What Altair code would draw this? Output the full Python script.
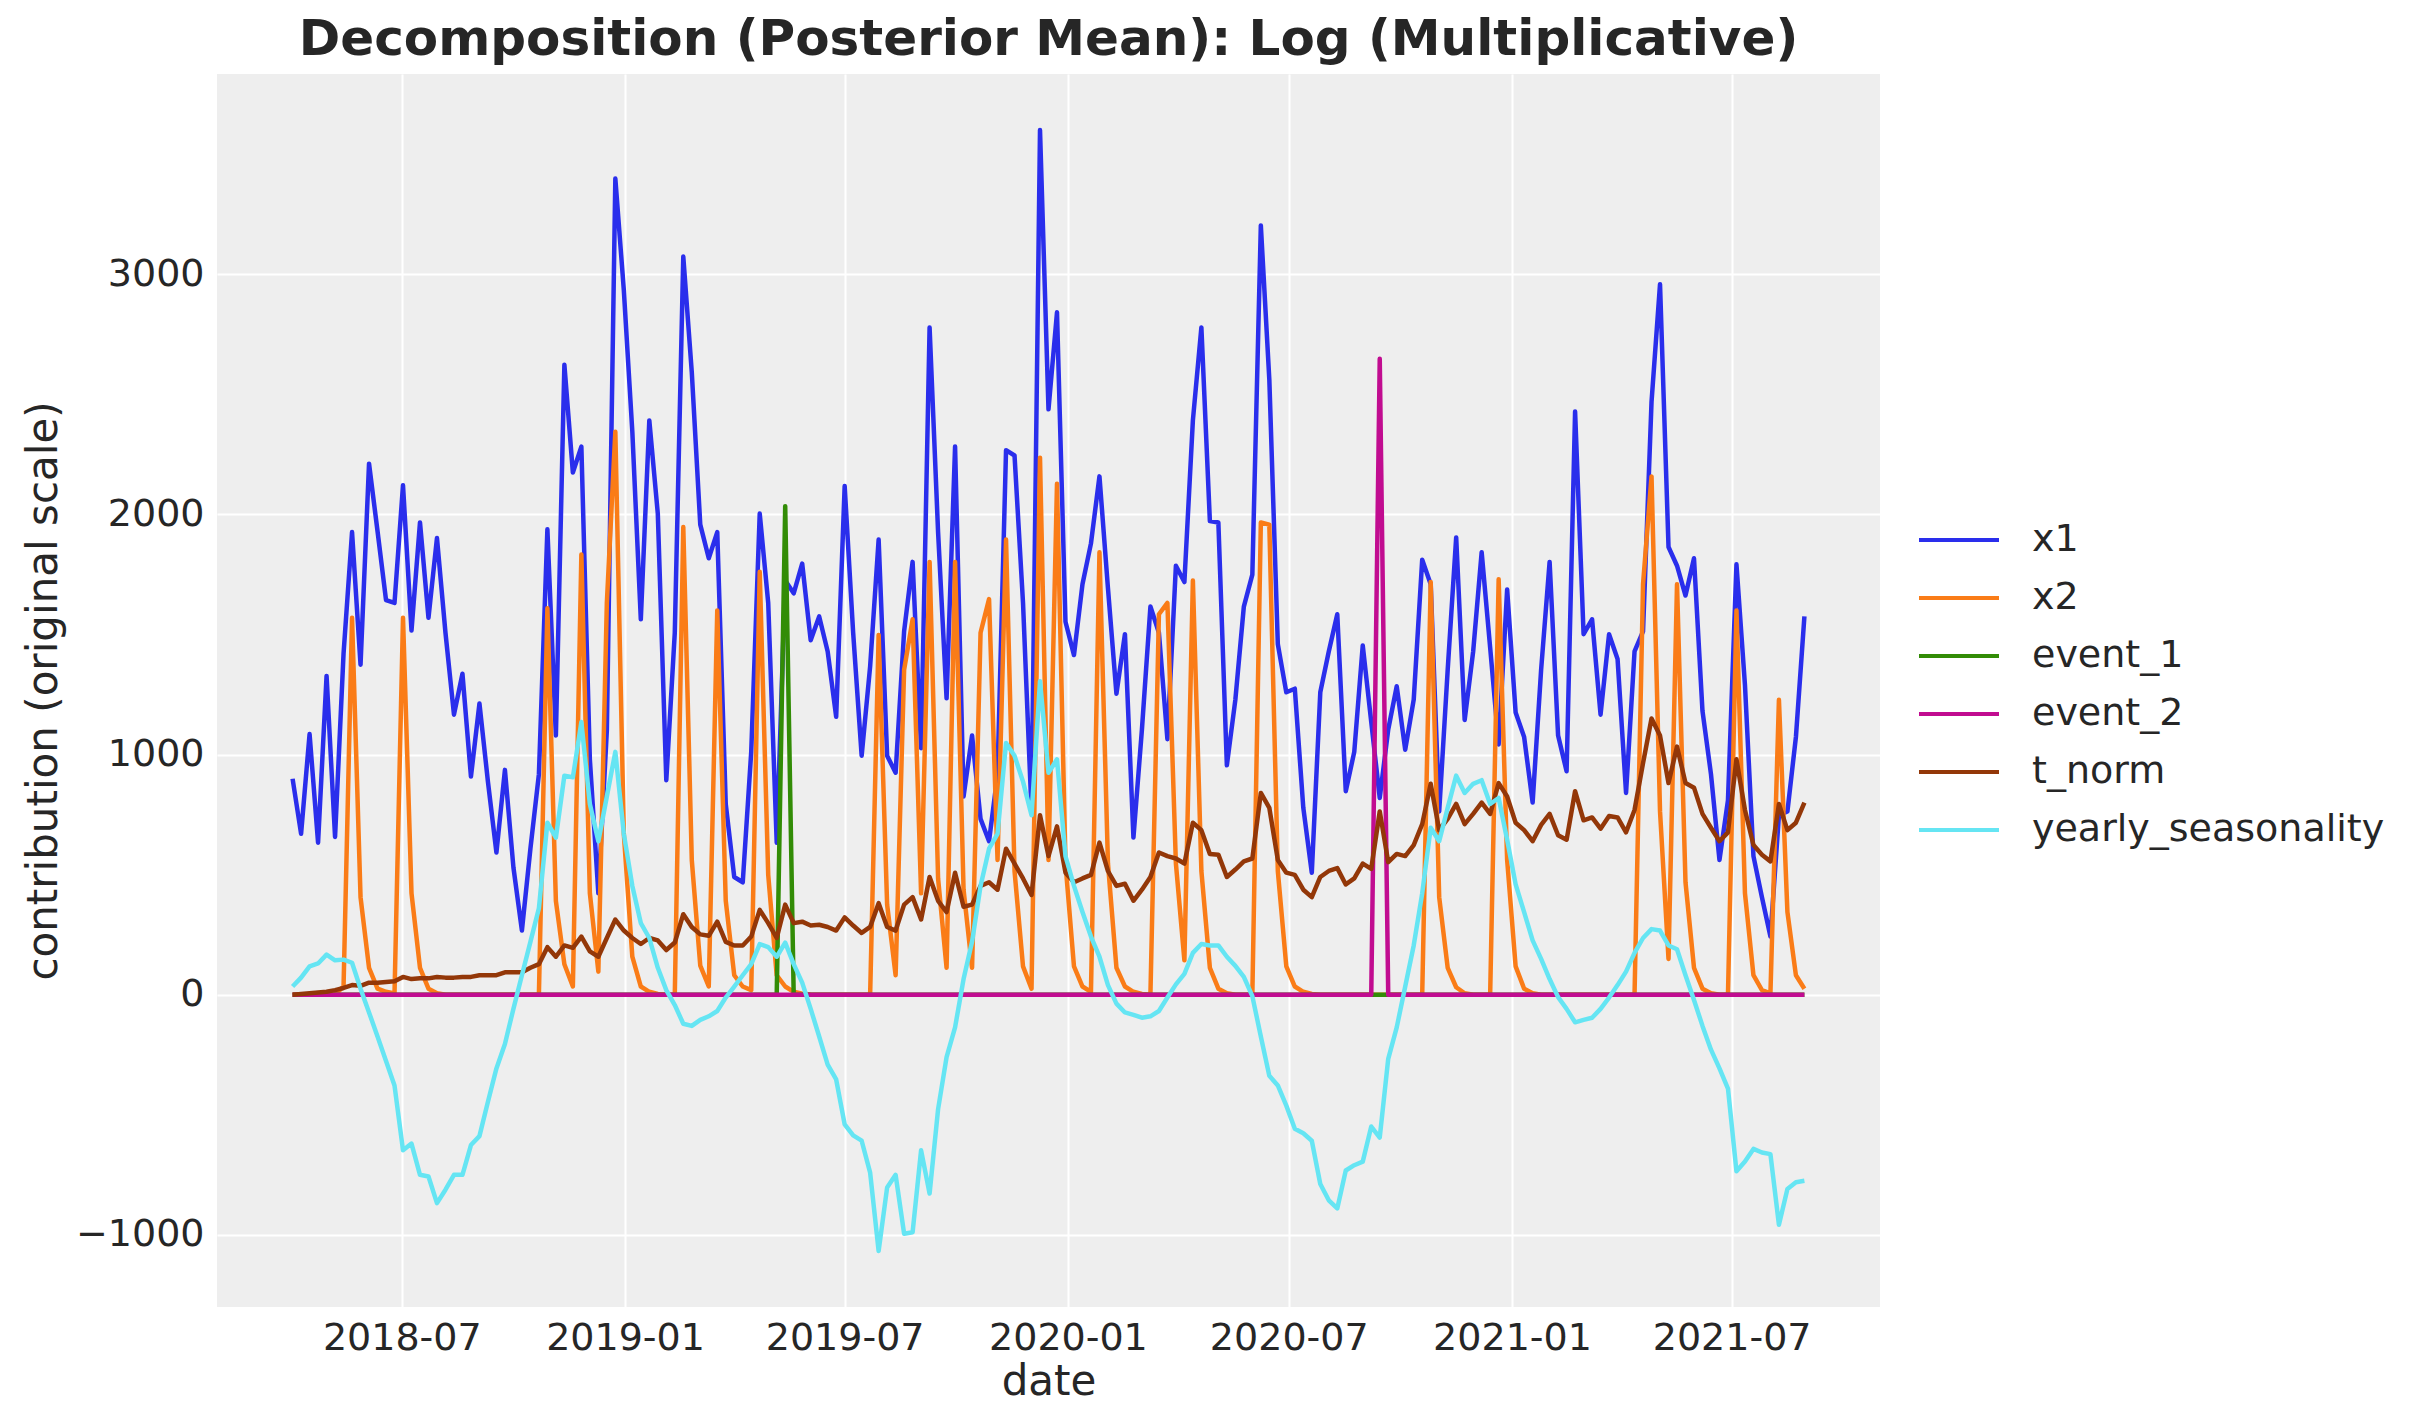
import altair as alt
import pandas as pd

# ---- data (weekly, 179 points) ----
start_date = "2018-04-02"
n_weeks = 179

series_names = ["x1", "x2", "event_1", "event_2", "t_norm", "yearly_seasonality"]
series_colors = ["#2a2eec", "#fa7c17", "#328c06", "#c10c90", "#933708", "#65e5f3"]

x1 = [
    899, 670, 1085, 633, 1327, 657, 1420, 1926, 1374, 2211,
    1930, 1643, 1631, 2121, 1516, 1966, 1569, 1901, 1507, 1166,
    1336, 908, 1212, 887, 592, 936, 530, 267, 608, 918,
    1938, 1079, 2623, 2174, 2282, 980, 422, 1100, 3398, 2933,
    2344, 1563, 2391, 2003, 893, 1507, 3073, 2592, 1957, 1817,
    1926, 794, 490, 468, 1011, 2003, 1631, 633, 1724, 1671,
    1795, 1476, 1575, 1429, 1157, 2118, 1507, 995, 1367, 1895,
    995, 924, 1513, 1802, 1026, 2778, 1926, 1234, 2282, 825,
    1079, 732, 639, 918, 2267, 2245, 1631, 763, 3600, 2437,
    2841, 1553, 1414, 1709, 1879, 2158, 1693, 1253, 1501, 654,
    1104, 1616, 1507, 1064, 1786, 1718, 2391, 2778, 1972, 1966,
    955, 1228, 1616, 1749, 3203, 2561, 1460, 1259, 1274, 778,
    508, 1259, 1429, 1584, 847, 1011, 1454, 1135, 819, 1104,
    1284, 1020, 1228, 1811, 1709, 763, 1352, 1904, 1144, 1429,
    1842, 1445, 1042, 1687, 1175, 1073, 800, 1352, 1802, 1079,
    930, 2428, 1501, 1563, 1166, 1501, 1398, 840, 1429, 1513,
    2468, 2958, 1864, 1786, 1662, 1817, 1181, 918, 561, 809,
    1792, 1290, 577, 406, 242, 747, 763, 1073, 1575,
]

x2 = [
    0, 0, 0, 0, 0, 0, 35, 1569, 406, 112,
    25, 12, 5, 1569, 422, 112, 25, 6, 0, 0,
    0, 0, 0, 0, 0, 0, 0, 0, 0, 0,
    1609, 390, 127, 34, 1833, 422, 96, 1631, 2344, 670,
    158, 34, 12, 3, 0, 0, 1947, 561, 121, 34,
    1600, 391, 81, 34, 19, 1761, 499, 81, 34, 12,
    4, 1, 0, 0, 0, 0, 0, 0, 0, 1498,
    375, 81, 1352, 1563, 422, 1802, 484, 112, 1802, 437,
    112, 1507, 1647, 561, 1895, 515, 118, 25, 2236, 561,
    2127, 546, 118, 34, 12, 1842, 546, 112, 34, 12,
    3, 0, 1584, 1631, 546, 143, 1724, 515, 112, 25,
    6, 0, 0, 0, 1966, 1957, 515, 118, 34, 12,
    3, 0, 0, 0, 0, 0, 0, 0, 0, 0,
    0, 0, 0, 0, 1718, 406, 112, 31, 6, 0,
    0, 0, 1730, 561, 118, 25, 6, 0, 0, 0,
    0, 0, 0, 0, 0, 0, 0, 0, 0, 1709,
    2158, 763, 149, 1709, 468, 112, 25, 6, 0, 0,
    1600, 422, 81, 19, 6, 1228, 344, 81, 25,
]

event_1 = [
    0, 0, 0, 0, 0, 0, 0, 0, 0, 0,
    0, 0, 0, 0, 0, 0, 0, 0, 0, 0,
    0, 0, 0, 0, 0, 0, 0, 0, 0, 0,
    0, 0, 0, 0, 0, 0, 0, 0, 0, 0,
    0, 0, 0, 0, 0, 0, 0, 0, 0, 0,
    0, 0, 0, 0, 0, 0, 0, 0, 2034, 0,
    0, 0, 0, 0, 0, 0, 0, 0, 0, 0,
    0, 0, 0, 0, 0, 0, 0, 0, 0, 0,
    0, 0, 0, 0, 0, 0, 0, 0, 0, 0,
    0, 0, 0, 0, 0, 0, 0, 0, 0, 0,
    0, 0, 0, 0, 0, 0, 0, 0, 0, 0,
    0, 0, 0, 0, 0, 0, 0, 0, 0, 0,
    0, 0, 0, 0, 0, 0, 0, 0, 0, 0,
    0, 0, 0, 0, 0, 0, 0, 0, 0, 0,
    0, 0, 0, 0, 0, 0, 0, 0, 0, 0,
    0, 0, 0, 0, 0, 0, 0, 0, 0, 0,
    0, 0, 0, 0, 0, 0, 0, 0, 0, 0,
    0, 0, 0, 0, 0, 0, 0, 0, 0,
]

event_2 = [
    0, 0, 0, 0, 0, 0, 0, 0, 0, 0,
    0, 0, 0, 0, 0, 0, 0, 0, 0, 0,
    0, 0, 0, 0, 0, 0, 0, 0, 0, 0,
    0, 0, 0, 0, 0, 0, 0, 0, 0, 0,
    0, 0, 0, 0, 0, 0, 0, 0, 0, 0,
    0, 0, 0, 0, 0, 0, 0, 0, 0, 0,
    0, 0, 0, 0, 0, 0, 0, 0, 0, 0,
    0, 0, 0, 0, 0, 0, 0, 0, 0, 0,
    0, 0, 0, 0, 0, 0, 0, 0, 0, 0,
    0, 0, 0, 0, 0, 0, 0, 0, 0, 0,
    0, 0, 0, 0, 0, 0, 0, 0, 0, 0,
    0, 0, 0, 0, 0, 0, 0, 0, 0, 0,
    0, 0, 0, 0, 0, 0, 0, 0, 2648, 0,
    0, 0, 0, 0, 0, 0, 0, 0, 0, 0,
    0, 0, 0, 0, 0, 0, 0, 0, 0, 0,
    0, 0, 0, 0, 0, 0, 0, 0, 0, 0,
    0, 0, 0, 0, 0, 0, 0, 0, 0, 0,
    0, 0, 0, 0, 0, 0, 0, 0, 0,
]

t_norm = [
    0, 3, 6, 9, 12, 19, 28, 40, 37, 50,
    50, 53, 56, 74, 65, 68, 68, 74, 71, 71,
    74, 74, 81, 81, 81, 93, 93, 93, 112, 127,
    198, 158, 205, 195, 242, 180, 158, 236, 313, 267,
    236, 211, 236, 226, 186, 217, 335, 282, 251, 245,
    304, 220, 205, 205, 242, 353, 298, 236, 375, 298,
    304, 288, 291, 282, 267, 322, 288, 257, 282, 381,
    282, 267, 375, 406, 313, 490, 391, 344, 508, 366,
    375, 453, 468, 437, 608, 546, 484, 415, 747, 577,
    701, 508, 468, 484, 499, 633, 515, 453, 462, 391,
    437, 490, 592, 577, 567, 546, 716, 685, 586, 583,
    490, 521, 555, 567, 840, 778, 561, 508, 499, 437,
    406, 490, 515, 527, 459, 484, 546, 524, 763, 552,
    586, 577, 623, 710, 878, 685, 732, 794, 710, 753,
    800, 753, 881, 825, 716, 685, 639, 707, 753, 664,
    645, 847, 726, 738, 691, 744, 738, 676, 769, 964,
    1150, 1079, 881, 1033, 881, 862, 753, 695, 639, 676,
    980, 769, 623, 583, 555, 794, 685, 716, 800,
]

yearly_seasonality = [
    34, 71, 118, 130, 167, 143, 146, 133, 25, -74,
    -174, -276, -378, -648, -620, -750, -757, -868, -812, -750,
    -750, -626, -589, -446, -307, -205, -59, 81, 220, 360,
    716, 654, 912, 905, 1135, 794, 639, 825, 1011, 670,
    453, 298, 236, 112, 19, -43, -121, -130, -105, -90,
    -68, -12, 34, 81, 127, 211, 198, 158, 217, 127,
    50, -59, -174, -291, -353, -540, -586, -608, -741, -1067,
    -803, -750, -995, -989, -648, -828, -477, -260, -136, 65,
    220, 453, 608, 670, 1048, 995, 887, 747, 1305, 924,
    980, 577, 453, 344, 242, 158, 40, -37, -74, -84,
    -96, -90, -68, -12, 43, 87, 174, 211, 205, 205,
    158, 120, 74, -6, -174, -338, -378, -462, -558, -577,
    -608, -788, -856, -890, -732, -710, -695, -549, -595, -267,
    -136, 34, 205, 422, 695, 639, 778, 912, 840, 878,
    893, 794, 819, 645, 459, 344, 226, 149, 65, -10,
    -59, -115, -105, -96, -59, -12, 40, 96, 174, 236,
    273, 267, 205, 189, 81, -22, -130, -229, -307, -391,
    -735, -695, -642, -657, -664, -958, -809, -781, -775,
]

y_ticks = [-1000, 0, 1000, 2000, 3000]
x_tick_dates = ["2018-07-01", "2019-01-01", "2019-07-01", "2020-01-01",
                "2020-07-01", "2021-01-01", "2021-07-01"]

# ---- build long table ----
dates = pd.date_range(start_date, periods=n_weeks, freq="7D")
date_str = [d.strftime("%Y-%m-%d") for d in dates]
values = {"x1": x1, "x2": x2, "event_1": event_1, "event_2": event_2,
          "t_norm": t_norm, "yearly_seasonality": yearly_seasonality}
rows = []
for name in series_names:
    for d, v in zip(date_str, values[name]):
        rows.append({"date": d, "value": v, "series": name})
df = pd.DataFrame(rows)

# matplotlib-like 5% margins
def ms(ts):
    return int(pd.Timestamp(ts, tz="UTC").value // 10**6)

t0, t1 = ms(dates[0]), ms(dates[-1])
span = t1 - t0
x_domain = [t0 - 0.05 * span, t1 + 0.05 * span]
all_vals = x1 + x2 + event_1 + event_2 + t_norm + yearly_seasonality
vmin, vmax = min(all_vals), max(all_vals)
vspan = vmax - vmin
y_domain = [vmin - 0.05 * vspan, vmax + 0.05 * vspan]

FONT = "DejaVu Sans"
TXT = "#262626"

chart = alt.Chart(df).mark_line(strokeWidth=4.5, strokeJoin="round").encode(
    x=alt.X(
        "date:T",
        scale=alt.Scale(type="utc", domain=x_domain),
        axis=alt.Axis(values=[ms(t) for t in x_tick_dates], format="%Y-%m",
                      title="date", labelPadding=12, titlePadding=4),
    ),
    y=alt.Y(
        "value:Q",
        scale=alt.Scale(domain=y_domain, nice=False, zero=False),
        axis=alt.Axis(values=y_ticks, format="d",
                      title="contribution (original scale)",
                      labelPadding=13, titlePadding=10),
    ),
    color=alt.Color(
        "series:N",
        sort=series_names,
        scale=alt.Scale(domain=series_names, range=series_colors),
        legend=alt.Legend(orient="none", legendX=1700, legendY=445, padding=0,
                          symbolType="stroke", symbolStrokeWidth=4,
                          symbolSize=6400, labelFontSize=38, labelOffset=31,
                          clipHeight=42, rowPadding=16, labelLimit=700,
                          title=None, labelFont=FONT, labelColor=TXT),
    ),
).properties(
    width=1663,
    height=1233,
    title=alt.TitleParams("Decomposition (Posterior Mean): Log (Multiplicative)",
                          fontSize=50, fontWeight="bold", font=FONT, color=TXT,
                          anchor="middle", offset=9),
    autosize=alt.AutoSizeParams(type="none"),
    padding={"left": 209, "top": 66, "right": 520, "bottom": 104},
).configure_view(
    fill="#eeeeee", stroke=None
).configure_axis(
    domain=False, ticks=False, grid=True, gridColor="#ffffff", gridWidth=2,
    labelFont=FONT, labelFontSize=38, labelColor=TXT,
    titleFont=FONT, titleFontSize=42, titleFontWeight="normal", titleColor=TXT,
)

chart.save("out.html", embed_options={"renderer": "svg", "actions": False})
